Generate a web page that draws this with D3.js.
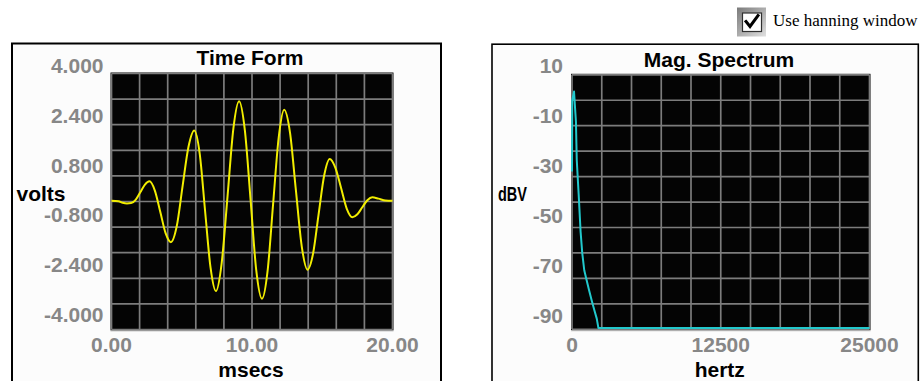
<!DOCTYPE html>
<html>
<head>
<meta charset="utf-8">
<script src="https://cdn.jsdelivr.net/npm/d3@7/dist/d3.min.js"></script>
<style>
  html, body { margin: 0; padding: 0; background: #ffffff; }
  svg { display: block; }
</style>
</head>
<body>
<svg id="chart" width="920" height="381"></svg>
<script>
// ---- Time form: sampled waveform (ms, volts) ----
const timeMs = [0, 0.5, 0.8, 1.1, 1.4, 1.73, 2.05, 2.38, 2.70, 3.08, 3.47, 3.85, 4.23, 4.65, 5.06, 5.48,
  5.89, 6.28, 6.66, 7.05, 7.43, 7.84, 8.26, 8.67, 9.08, 9.49, 9.90, 10.30, 10.71, 11.11, 11.50, 11.90,
  12.29, 12.71, 13.12, 13.54, 13.95, 14.35, 14.74, 15.14, 15.53, 15.93, 16.34, 16.74, 17.14, 17.50,
  17.85, 18.21, 18.56, 19.0, 19.5, 20.0];
const volts = [0.02, 0.01, -0.04, -0.06, -0.05, 0.06, 0.29, 0.53, 0.63, 0.35, -0.32, -0.99, -1.27, -0.76, 0.48, 1.71,
  2.22, 1.49, -0.29, -2.07, -2.80, -1.93, 0.17, 2.26, 3.13, 2.23, 0.05, -2.14, -3.04, -2.17, -0.09, 2.00,
  2.87, 2.14, 0.37, -1.40, -2.13, -1.62, -0.40, 0.82, 1.33, 1.06, 0.42, -0.22, -0.49, -0.40,
  -0.18, 0.04, 0.13, 0.09, 0.03, 0.02];

// ---- Magnitude spectrum (hertz, dBV) ----
const freqHz = [0, 20, 170, 330, 400, 560, 720, 860, 1030, 1230, 1430, 1650, 1880, 2080, 2220, 25000];
const dbv = [-28.0, 0.0, 3.4, -8.4, -23.5, -37.0, -51.5, -60.0, -66.8, -70.7, -74.6, -78.6, -82.5, -85.8, -89.5, -89.5];

// ---- Tick labels ----
const voltTicks = [4, 2.4, 0.8, -0.8, -2.4, -4];
const msTicks = [0, 10, 20];
const dbTicks = [10, -10, -30, -50, -70, -90];
const hzTicks = [0, 12500, 25000];

const locale = d3.formatLocale({ decimal: ".", thousands: ",", grouping: [3], currency: ["$", ""], minus: "-" });
const fmtVolt = locale.format(".3f");
const fmtMs = locale.format(".2f");
const fmtInt = locale.format("d");

const svg = d3.select("#chart");
const SANS = "'Liberation Sans', Arial, sans-serif";
const SERIF = "'Liberation Serif', 'Times New Roman', serif";

// Panel frames
svg.append("rect").attr("x", 12).attr("y", 43.5).attr("width", 429).attr("height", 360)
  .attr("fill", "#fcfcfc").attr("stroke", "#000").attr("stroke-width", 2);
svg.append("rect").attr("x", 492).attr("y", 44.2).attr("width", 426.3).attr("height", 360)
  .attr("fill", "#fcfcfc").attr("stroke", "#000").attr("stroke-width", 1.6);

function drawPanel(cfg) {
  const g = svg.append("g");
  const x = d3.scaleLinear().domain(cfg.xDomain).range([cfg.left, cfg.right]);
  const y = d3.scaleLinear().domain(cfg.yDomain).range([cfg.bottom, cfg.top]);
  // tick labels sit on their own baseline scale
  const yLab = d3.scaleLinear().domain(cfg.yDomain).range(cfg.labRange);

  // plot background
  g.append("rect")
    .attr("x", cfg.left - 1).attr("y", cfg.top - 1)
    .attr("width", cfg.right - cfg.left + 2).attr("height", cfg.bottom - cfg.top + 2)
    .attr("fill", "#040404");
  g.append("line").attr("x1", cfg.left - 1).attr("x2", cfg.right + 1)
    .attr("y1", cfg.bottom + 1.5).attr("y2", cfg.bottom + 1.5)
    .attr("stroke", "#c8c8c8").attr("stroke-width", 1);

  // grid
  const xs = d3.range(11).map(i => cfg.xDomain[0] + i * (cfg.xDomain[1] - cfg.xDomain[0]) / 10);
  const ys = d3.range(11).map(i => cfg.yDomain[0] + i * (cfg.yDomain[1] - cfg.yDomain[0]) / 10);
  g.append("g").selectAll("line").data(xs).join("line")
    .attr("x1", d => x(d)).attr("x2", d => x(d))
    .attr("y1", cfg.top).attr("y2", cfg.bottom)
    .attr("stroke", "#7c7c7c").attr("stroke-width", 1.7);
  g.append("g").selectAll("line").data(ys).join("line")
    .attr("x1", cfg.left).attr("x2", cfg.right)
    .attr("y1", d => y(d)).attr("y2", d => y(d))
    .attr("stroke", "#7c7c7c").attr("stroke-width", 1.7);

  // trace
  const pts = cfg.xs.map((d, i) => [d, cfg.ys[i]]);
  g.append("path").datum(pts)
    .attr("fill", "none").attr("stroke", cfg.color).attr("stroke-width", 2)
    .attr("stroke-linejoin", "round")
    .attr("d", d3.line().x(d => x(d[0])).y(d => y(d[1])).curve(cfg.curve));

  // y tick labels
  g.append("g").selectAll("text").data(cfg.yTicks).join("text")
    .attr("x", cfg.left - cfg.labGap).attr("y", d => yLab(d))
    .attr("text-anchor", "end")
    .attr("font-family", SANS).attr("font-weight", "bold").attr("font-size", 21)
    .attr("fill", "#878787")
    .text(cfg.yFmt);

  // x tick labels
  g.append("g").selectAll("text").data(cfg.xTicks).join("text")
    .attr("x", d => x(d)).attr("y", 351.5)
    .attr("text-anchor", "middle")
    .attr("font-family", SANS).attr("font-weight", "bold").attr("font-size", 21)
    .attr("fill", "#878787")
    .text(cfg.xFmt);

  // title
  g.append("text").attr("x", cfg.titleX).attr("y", cfg.titleY)
    .attr("text-anchor", "middle")
    .attr("font-family", SANS).attr("font-weight", "bold").attr("font-size", 21)
    .attr("fill", "#000").text(cfg.title);

  // axis names
  g.append("text").attr("x", (cfg.left + cfg.right) / 2 - 1).attr("y", 377)
    .attr("text-anchor", "middle")
    .attr("font-family", SANS).attr("font-weight", "bold").attr("font-size", 21)
    .attr("fill", "#000").text(cfg.xName);
  const yn = g.append("text").attr("x", cfg.yNameX).attr("y", 200.8)
    .attr("font-family", SANS).attr("font-weight", "bold").attr("font-size", 21)
    .attr("fill", "#000").text(cfg.yName);
  if (cfg.yNameLen) yn.attr("textLength", cfg.yNameLen).attr("lengthAdjust", "spacingAndGlyphs");
}

drawPanel({
  xDomain: [0, 20], yDomain: [-4, 4],
  left: 111.5, right: 392.5, top: 73.5, bottom: 329.5,
  labRange: [322, 73], labGap: 8,
  xs: timeMs, ys: volts, color: "#f2ee00", curve: d3.curveMonotoneX,
  yTicks: voltTicks, yFmt: fmtVolt, xTicks: msTicks, xFmt: fmtMs,
  title: "Time Form", titleX: 250, titleY: 65,
  xName: "msecs", yName: "volts", yNameX: 16.5
});

drawPanel({
  xDomain: [0, 25000], yDomain: [-90, 10],
  left: 572, right: 869.5, top: 74.8, bottom: 329.3,
  labRange: [323.3, 73.4], labGap: 9,
  xs: freqHz, ys: dbv, color: "#22c8cc", curve: d3.curveLinear,
  yTicks: dbTicks, yFmt: fmtInt, xTicks: hzTicks, xFmt: fmtInt,
  title: "Mag. Spectrum", titleX: 719, titleY: 66.5,
  xName: "hertz", yName: "dBV", yNameX: 498, yNameLen: 29
});

// "Use hanning window" checkbox
const cb = svg.append("g");
const grad = svg.append("defs").append("linearGradient").attr("id", "bevel")
  .attr("x1", 0).attr("y1", 0).attr("x2", 1).attr("y2", 1);
grad.append("stop").attr("offset", 0).attr("stop-color", "#7a7a7a");
grad.append("stop").attr("offset", 1).attr("stop-color", "#e0e0e0");
cb.append("rect").attr("x", 737).attr("y", 7.5).attr("width", 29).attr("height", 29)
  .attr("fill", "url(#bevel)");
cb.append("rect").attr("x", 742.5).attr("y", 13).attr("width", 19).attr("height", 18.5)
  .attr("fill", "#ffffff").attr("stroke", "#303030").attr("stroke-width", 1.2);
cb.append("path").attr("d", "M746,21.5 L750,26.5 L758,15.5")
  .attr("fill", "none").attr("stroke", "#000").attr("stroke-width", 3)
  .attr("stroke-linecap", "square").attr("stroke-linejoin", "miter");
cb.append("text").attr("x", 773).attr("y", 26)
  .attr("font-family", SERIF).attr("font-size", 17).attr("fill", "#000")
  .text("Use hanning window");
</script>
</body>
</html>
